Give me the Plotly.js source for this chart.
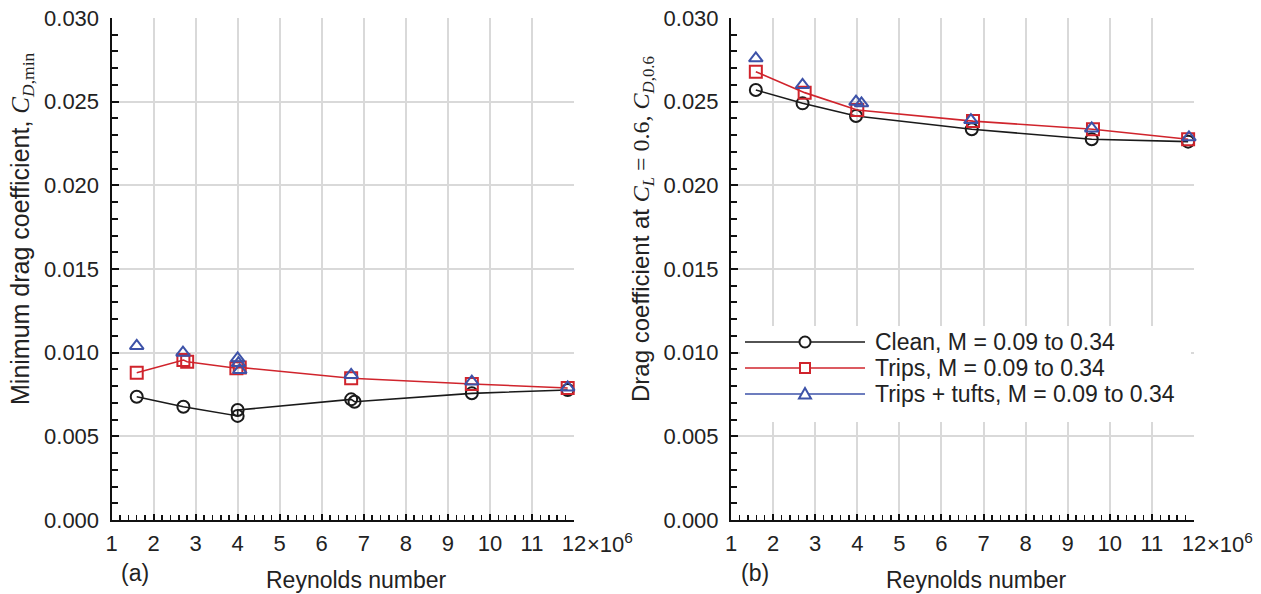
<!DOCTYPE html>
<html>
<head>
<meta charset="utf-8">
<script src="https://cdn.plot.ly/plotly-3.0.1.min.js"></script>
<style>html,body{margin:0;padding:0;background:#fff;}#chart{width:1261px;height:594px;}</style>
</head>
<body>
<div id="chart"></div>
<script>
// ---------- data: panel (a) minimum drag coefficient ----------
const cleanReA = [1.60, 2.71, 4.00, 4.00, 6.70, 6.78, 9.57, 11.85];
const cleanCdA = [0.00737, 0.00677, 0.00622, 0.00657, 0.00721, 0.00707, 0.00757, 0.00777];
const tripsReA = [1.60, 2.71, 2.80, 3.97, 4.05, 6.70, 9.57, 11.85];
const tripsCdA = [0.00880, 0.00956, 0.00946, 0.00907, 0.00912, 0.00847, 0.00813, 0.00789];
const tuftsReA = [1.60, 2.70, 4.00, 4.02, 4.05, 6.70, 9.57, 11.85];
const tuftsCdA = [0.01040, 0.01000, 0.00966, 0.00938, 0.00896, 0.00867, 0.00827, 0.00792];

// ---------- data: panel (b) drag coefficient at CL = 0.6 ----------
const cleanReB = [1.59, 2.70, 3.97, 6.72, 9.57, 11.86];
const cleanCdB = [0.02570, 0.02490, 0.02414, 0.02335, 0.02275, 0.02261];
const tripsReB = [1.59, 2.75, 4.00, 6.75, 9.60, 11.86];
const tripsCdB = [0.02679, 0.02554, 0.02450, 0.02384, 0.02335, 0.02275];
const tuftsReB = [1.59, 2.70, 3.97, 4.10, 6.70, 9.57, 11.88];
const tuftsCdB = [0.02759, 0.02600, 0.02500, 0.02490, 0.02390, 0.02340, 0.02287];

// ---------- labels ----------
const xTickVals = [1, 2, 3, 4, 5, 6, 7, 8, 9, 10, 11, 12];
const xTickText = ['1', '2', '3', '4', '5', '6', '7', '8', '9', '10', '11', '12'];
const seriesNames = ['Clean, M = 0.09 to 0.34', 'Trips, M = 0.09 to 0.34', 'Trips + tufts, M = 0.09 to 0.34'];

const FONT = 'Liberation Sans, Arial, sans-serif';
const SERIF = 'Liberation Serif, Times New Roman, serif';
const BLACK = '#1a1a1a', RED = '#d0242c', BLUE = '#3d52a8';
const W = 1261, H = 594;
const px = v => v / W, py = v => 1 - v / H;

function trace(x, y, ax, color, symbol, withLine) {
  return {
    x: x, y: y, xaxis: ax[0], yaxis: ax[1],
    type: 'scatter', mode: withLine ? 'lines+markers' : 'markers',
    line: {color: color, width: 1.6},
    marker: {symbol: symbol, size: 12, color: color, line: {color: color, width: 2}},
    showlegend: false, cliponaxis: false
  };
}

const data = [
  trace(cleanReA, cleanCdA, ['x', 'y'], BLACK, 'circle-open', true),
  trace(tripsReA, tripsCdA, ['x', 'y'], RED, 'square-open', true),
  trace(tuftsReA, tuftsCdA, ['x', 'y'], BLUE, 'triangle-up-open', false),
  trace(cleanReB, cleanCdB, ['x2', 'y2'], BLACK, 'circle-open', true),
  trace(tripsReB, tripsCdB, ['x2', 'y2'], RED, 'square-open', true),
  trace(tuftsReB, tuftsCdB, ['x2', 'y2'], BLUE, 'triangle-up-open', false)
];

function xAxis(domain, anchor) {
  return {
    domain: domain, anchor: anchor, range: [1, 12],
    tickvals: xTickVals, ticktext: xTickText,
    ticks: 'inside', ticklen: 6, tickwidth: 2, tickcolor: '#111',
    minor: {dtick: 0.2, ticks: 'inside', ticklen: 5, tickwidth: 1.5, tickcolor: '#111', showgrid: false},
    showline: true, linecolor: '#111', linewidth: 2,
    showgrid: true, gridcolor: '#d9d9d9', gridwidth: 2, zeroline: false,
    tickfont: {family: FONT, size: 22, color: '#222'}, ticklabelstandoff: 3
  };
}
function yAxis(domain, anchor) {
  return {
    domain: domain, anchor: anchor, range: [0, 0.030],
    dtick: 0.005, tick0: 0, tickformat: '.3f',
    ticks: 'inside', ticklen: 7, tickwidth: 2, tickcolor: '#111',
    minor: {dtick: 0.001, ticks: 'inside', ticklen: 6, tickwidth: 2, tickcolor: '#111', showgrid: false},
    showline: true, linecolor: '#111', linewidth: 2,
    showgrid: true, gridcolor: '#d9d9d9', gridwidth: 2, zeroline: false,
    tickfont: {family: FONT, size: 22, color: '#222'}, ticklabelstandoff: 6
  };
}

const yDom = [(H - 520) / H, (H - 18) / H];
const ann = (text, x, y, opts) => Object.assign({
  text: text, x: x, y: y, xref: 'paper', yref: 'paper', showarrow: false,
  xanchor: 'center', yanchor: 'middle', font: {family: FONT, size: 23, color: '#222'}
}, opts || {});

const annotations = [
  ann('Minimum drag coefficient, <span style="font-family:' + SERIF + '"><i>C</i><sub><i>D</i>,min</sub></span>', px(22), py(229),
      {textangle: -90, font: {family: FONT, size: 25, color: '#222'}}),
  ann('Drag coefficient at <span style="font-family:' + SERIF + '"><i>C</i><sub><i>L</i></sub> = 0.6, <i>C</i><sub><i>D</i>,0.6</sub></span>', px(642), py(229),
      {textangle: -90, font: {family: FONT, size: 24, color: '#222'}}),
  ann('(a)', px(135), py(573)),
  ann('(b)', px(755), py(573)),
  ann('Reynolds number', px(356), py(580)),
  ann('Reynolds number', px(976), py(580)),
  ann('×10<sup>6</sup>', 12, py(543), {xref: 'x', xanchor: 'left', yanchor: 'middle', xshift: 11, font: {family: FONT, size: 22, color: '#222'}}),
  ann('×10<sup>6</sup>', 12, py(543), {xref: 'x2', xanchor: 'left', yanchor: 'middle', xshift: 11, font: {family: FONT, size: 22, color: '#222'}})
];

// manual legend in panel (b)
const legRows = [342, 368, 394];
const legColors = [BLACK, RED, BLUE];
const shapes = [
  {type: 'rect', xref: 'paper', yref: 'paper', x0: px(740), x1: px(1191), y0: py(422), y1: py(326),
   fillcolor: '#fff', line: {width: 0}, layer: 'above'}
];
legRows.forEach((r, i) => {
  shapes.push({type: 'line', xref: 'paper', yref: 'paper', x0: px(745), x1: px(865), y0: py(r), y1: py(r),
    line: {color: legColors[i], width: 1.6}, layer: 'above'});
  annotations.push(ann(seriesNames[i], px(873), py(r), {xanchor: 'left'}));
});
const mk = (i) => ({xref: 'paper', yref: 'paper', xsizemode: 'pixel', ysizemode: 'pixel',
  xanchor: px(805), yanchor: py(legRows[i]), fillcolor: '#fff', line: {color: legColors[i], width: 2}, layer: 'above'});
shapes.push(Object.assign(mk(0), {type: 'circle', x0: -5.5, x1: 5.5, y0: -5.5, y1: 5.5}));
shapes.push(Object.assign(mk(1), {type: 'rect', x0: -5, x1: 5, y0: -5, y1: 5}));
shapes.push(Object.assign(mk(2), {type: 'path', path: 'M-6,-4.5 L6,-4.5 L0,6 Z'}));

const layout = {
  width: W, height: H,
  margin: {l: 0, r: 0, t: 0, b: 0},
  paper_bgcolor: '#fff', plot_bgcolor: '#fff',
  showlegend: false,
  xaxis: xAxis([111.5 / W, 574 / W], 'y'),
  yaxis: yAxis(yDom, 'x'),
  xaxis2: xAxis([731 / W, 1194 / W], 'y2'),
  yaxis2: yAxis(yDom, 'x2'),
  annotations: annotations,
  shapes: shapes
};

Plotly.newPlot('chart', data, layout, {displayModeBar: false, staticPlot: true});
</script>
</body>
</html>
